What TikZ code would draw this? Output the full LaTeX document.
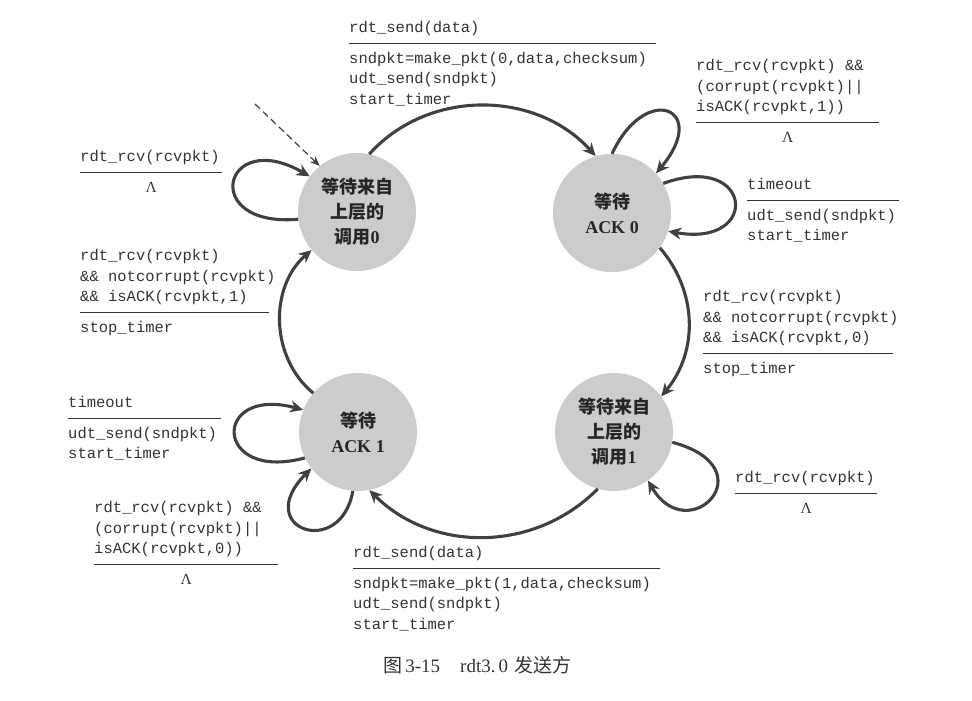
\documentclass[tikz,border=0pt]{standalone}
\usepackage{fontspec}
\setmainfont{Liberation Serif}
\setmonofont{Liberation Mono}
\newfontfamily\cjk{Noto Sans CJK SC}
\usetikzlibrary{arrows.meta}
\newcommand\zh[1]{{\cjk #1}}
% rule between event and action, width in pt
\newcommand\guardline[1]{\rule[9pt]{#1pt}{0.9pt}\\[-10.5pt]}
\newcommand\nothing[1]{\makebox[#1pt]{\rmfamily Λ}}
\tikzset{
  fsmstate/.style={circle, fill=black!20, minimum size=118pt, inner sep=0pt, align=center,
    text=black!85, font=\fontsize{18}{25}\selectfont\bfseries},
  trans/.style={draw=black!75, line width=3.1pt, -{Stealth[length=13pt,width=12pt]}},
  startarrow/.style={draw=black!75, line width=1.2pt, dash pattern=on 7pt off 4pt, -{Stealth[length=10pt,width=8pt]}},
  lbl/.style={anchor=north west, inner sep=0pt, align=left, text=black!80,
    font=\ttfamily\fontsize{15.5}{20.5}\selectfont},
}
\begin{document}
\begin{tikzpicture}[x=1pt,y=1pt]
  \useasboundingbox (0,0) rectangle (972,-701);
  % states
  \node[fsmstate] (wait0) at (357,-212) {\zh{等待来自}\\\zh{上层的}\\\zh{调用}0};
  \node[fsmstate] (ack0) at (612,-213) {\zh{等待}\\ACK 0};
  \node[fsmstate] (ack1) at (358,-432) {\zh{等待}\\ACK 1};
  \node[fsmstate] (wait1) at (614,-432) {\zh{等待来自}\\\zh{上层的}\\\zh{调用}1};
  % initial state
  \coordinate (init) at (255,-104);
  \draw[startarrow] (init) -- (wait0.129);
  % transitions
  \draw[trans] (wait0.78) to[out=48,in=132] (ack0.106);
  \draw[trans] (ack0.90) .. controls +(65:80) and +(50:85) .. (ack0.42);
  \draw[trans] (ack0.30) .. controls +(20:95) and +(-10:95) .. (ack0.-18);
  \draw[trans] (ack0.-36) to[bend left=40] (wait1.37);
  \draw[trans] (wait1.-10) .. controls +(-15:100) and +(-60:80) .. (wait1.-55);
  \draw[trans] (wait1.-106) to[bend left=45] (ack1.-79);
  \draw[trans] (ack1.206) .. controls +(195:95) and +(165:95) .. (ack1.158);
  \draw[trans] (ack1.265) .. controls +(260:70) and +(225:85) .. (ack1.218);
  \draw[trans] (ack1.139) to[bend left=50] (wait0.220);
  \draw[trans] (wait0.187) .. controls +(185:100) and +(150:100) .. (wait0.143);
  % labels
  \node[lbl] (lsend0) at (349,-18) {\strut rdt\_send(data)\\\guardline{307}sndpkt=make\_pkt(0,data,checksum)\\udt\_send(sndpkt)\\start\_timer};
  \node[lbl] (lack0a) at (696,-56) {\strut rdt\_rcv(rcvpkt) \&\&\\(corrupt(rcvpkt)||\\isACK(rcvpkt,1))\\\guardline{183}\nothing{183}};
  \node[lbl] (lack0t) at (747,-175) {\strut timeout\\\guardline{152}udt\_send(sndpkt)\\start\_timer};
  \node[lbl] (lack0w) at (703,-287) {\strut rdt\_rcv(rcvpkt)\\\&\& notcorrupt(rcvpkt)\\\&\& isACK(rcvpkt,0)\\\guardline{190}stop\_timer};
  \node[lbl] (lwait1) at (735,-468) {\strut rdt\_rcv(rcvpkt)\\\guardline{142}\nothing{142}};
  \node[lbl] (lsend1) at (353,-543) {\strut rdt\_send(data)\\\guardline{307}sndpkt=make\_pkt(1,data,checksum)\\udt\_send(sndpkt)\\start\_timer};
  \node[lbl] (lack1t) at (68,-393) {\strut timeout\\\guardline{153}udt\_send(sndpkt)\\start\_timer};
  \node[lbl] (lack1a) at (94,-498) {\strut rdt\_rcv(rcvpkt) \&\&\\(corrupt(rcvpkt)||\\isACK(rcvpkt,0))\\\guardline{184}\nothing{184}};
  \node[lbl] (lwait0) at (80,-147) {\strut rdt\_rcv(rcvpkt)\\\guardline{142}\nothing{142}};
  \node[lbl] (lack1w) at (80,-246) {\strut rdt\_rcv(rcvpkt)\\\&\& notcorrupt(rcvpkt)\\\&\& isACK(rcvpkt,1)\\\guardline{189}stop\_timer};
  % caption
  \node[anchor=west, inner sep=0pt, text=black!80, font=\fontsize{19}{22}\selectfont] (caption) at (383,-665)
    {\zh{图}\,3-15\hspace{20pt}rdt3.\,0\hspace{6pt}\zh{发送方}};
\end{tikzpicture}
\end{document}
